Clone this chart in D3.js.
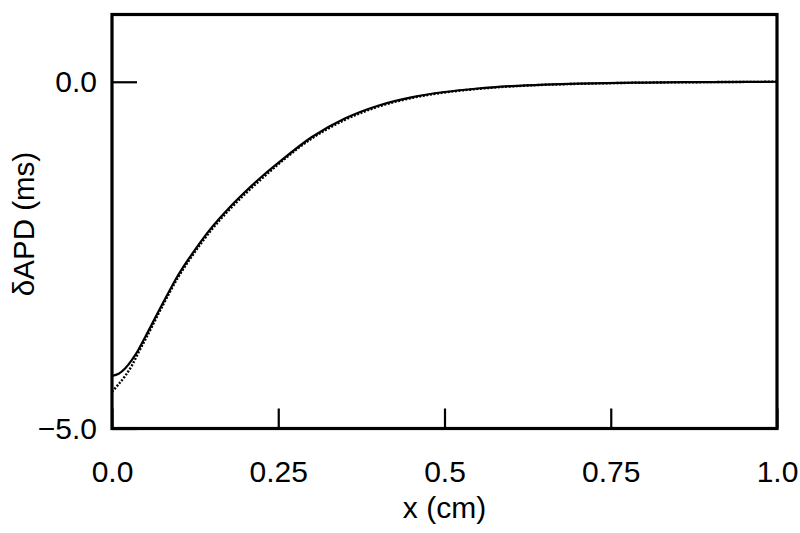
<!DOCTYPE html>
<html>
<head>
<meta charset="utf-8">
<script src="https://cdn.jsdelivr.net/npm/d3@7"></script>
<style>
  body { margin: 0; background: #fff; }
  text { font-family: "Liberation Sans", Arial, sans-serif; fill: #000; }
</style>
</head>
<body>
<div id="chart"></div>
<script>
// x positions (cm) where the curves were read
const xs = [0, 0.01, 0.02, 0.03, 0.04, 0.05, 0.075, 0.1, 0.125, 0.15, 0.175, 0.2, 0.225, 0.25, 0.3, 0.35, 0.4, 0.45, 0.5, 0.55, 0.6, 0.65, 0.7, 0.8, 0.9, 1.0];
// solid curve, dAPD (ms)
const solidVals = [-4.24, -4.21, -4.13, -4.01, -3.86, -3.68, -3.22, -2.78, -2.42, -2.10, -1.83, -1.59, -1.37, -1.17, -0.80, -0.53, -0.345, -0.225, -0.148, -0.097, -0.063, -0.041, -0.027, -0.011, -0.004, 0];
// dotted curve
const dottedVals = [-4.47, -4.36, -4.24, -4.09, -3.90, -3.72, -3.25, -2.81, -2.45, -2.13, -1.86, -1.62, -1.40, -1.19, -0.82, -0.55, -0.36, -0.235, -0.155, -0.103, -0.067, -0.044, -0.030, -0.013, -0.005, 0];

const xTickVals = [0, 0.25, 0.5, 0.75, 1.0];
const xTickLabels = ["0.0", "0.25", "0.5", "0.75", "1.0"];
const yTickVals = [0, -5];

const W = 800, H = 533;
const margin = { top: 14.5, right: 23, bottom: 104.5, left: 112 };
const width = W - margin.left - margin.right;
const height = H - margin.top - margin.bottom;

const svg = d3.select("#chart")
  .append("svg")
  .attr("width", W)
  .attr("height", H)
  .append("g")
  .attr("transform", "translate(" + margin.left + "," + margin.top + ")");

const xScale = d3.scaleLinear().domain([0, 1]).range([0, width]);
const yScale = d3.scaleLinear().domain([-5, 0.97]).range([height, 0]);

// x axis: ticks point inward, labels below
const xAxis = svg.append("g")
  .attr("transform", "translate(0," + height + ")")
  .call(d3.axisBottom(xScale)
    .tickValues(xTickVals)
    .tickFormat((d, i) => xTickLabels[i])
    .tickSizeInner(-20)
    .tickSizeOuter(0)
    .tickPadding(32));

// y axis
const yAxis = svg.append("g")
  .call(d3.axisLeft(yScale)
    .tickValues(yTickVals)
    .tickFormat(d3.format(".1f"))
    .tickSizeInner(-25)
    .tickSizeOuter(0)
    .tickPadding(15));

[xAxis, yAxis].forEach(ax => {
  ax.select(".domain").remove();
  ax.selectAll(".tick line").attr("stroke", "#000").attr("stroke-width", 2.2);
  ax.selectAll(".tick text")
    .attr("font-family", "Liberation Sans, Arial, sans-serif")
    .attr("font-size", "30px")
    .attr("fill", "#000");
});

const line = d3.line()
  .x(d => xScale(d[0]))
  .y(d => yScale(d[1]))
  .curve(d3.curveMonotoneX);

// dotted curve
svg.append("path")
  .datum(xs.map((x, i) => [x, dottedVals[i]]))
  .attr("fill", "none")
  .attr("stroke", "#000")
  .attr("stroke-width", 2.4)
  .attr("stroke-dasharray", "2,1.6")
  .attr("d", line);

// solid curve
svg.append("path")
  .datum(xs.map((x, i) => [x, solidVals[i]]))
  .attr("fill", "none")
  .attr("stroke", "#000")
  .attr("stroke-width", 2.2)
  .attr("d", line);

// frame
svg.append("rect")
  .attr("x", 0)
  .attr("y", 0)
  .attr("width", width)
  .attr("height", height)
  .attr("fill", "none")
  .attr("stroke", "#000")
  .attr("stroke-width", 3.2);

// x label
svg.append("text")
  .attr("x", width / 2)
  .attr("y", 518 - margin.top)
  .attr("text-anchor", "middle")
  .attr("font-size", "30px")
  .text("x (cm)");

// y label
svg.append("text")
  .attr("transform", "rotate(-90)")
  .attr("x", -(224 - margin.top))
  .attr("y", 33.5 - margin.left)
  .attr("text-anchor", "middle")
  .attr("font-size", "29.5px")
  .text("δAPD (ms)");
</script>
</body>
</html>
